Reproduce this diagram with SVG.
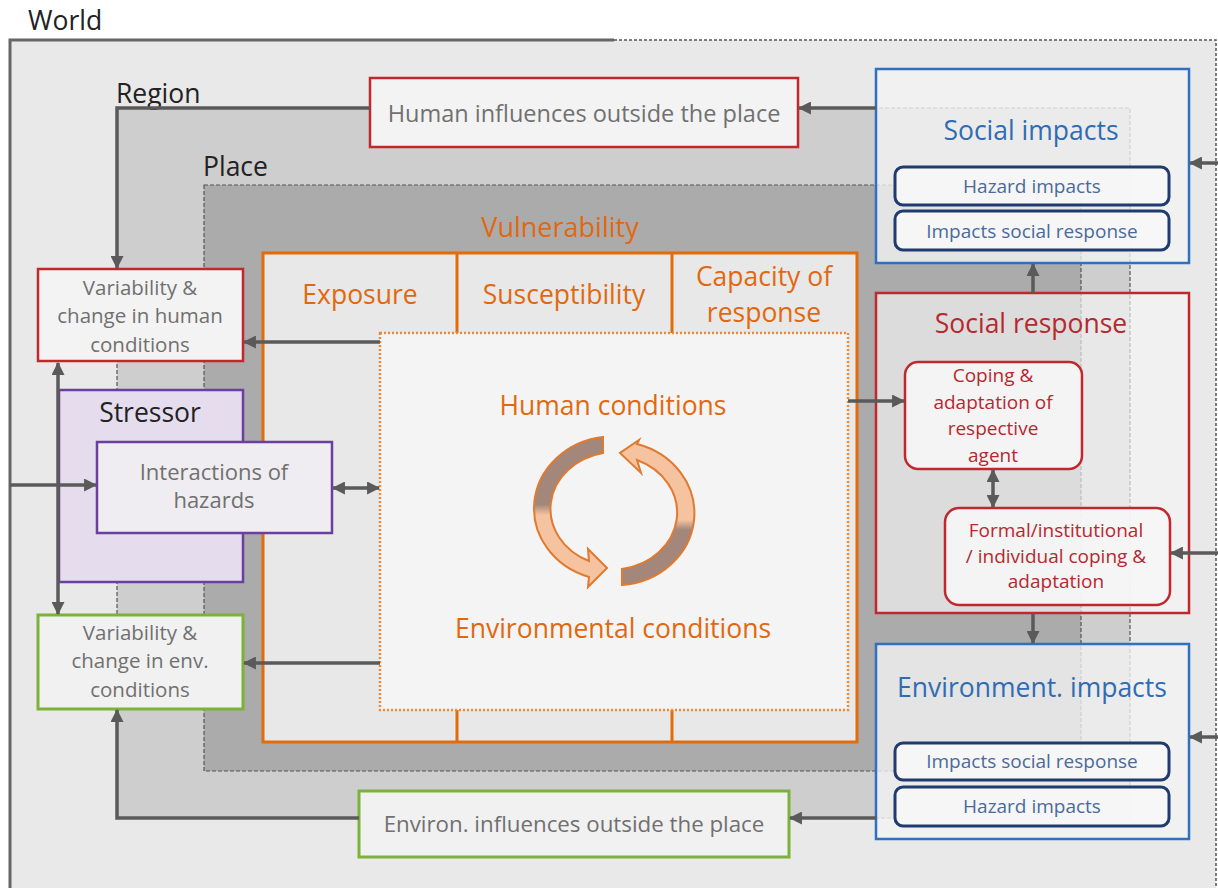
<svg xmlns="http://www.w3.org/2000/svg" width="1218" height="888" viewBox="0 0 1218 888">
<style>
text{font-family:"Open Sans","DejaVu Sans",sans-serif;}
.gt{fill:#707070;text-anchor:middle;}
.lbl{fill:#222;font-size:26.5px;}
.or{fill:#E2680F;text-anchor:middle;}
.bl{fill:#2F6CB3;text-anchor:middle;}
.bli{fill:#4A6A9C;text-anchor:middle;font-size:19px;}
.rd{fill:#B7282F;text-anchor:middle;}
.redbox{fill:#f3f3f3;stroke:#C0282E;stroke-width:2.5;}
.grnbox{fill:#f1f1f1;stroke:#7DB23A;stroke-width:3;}
.pur{stroke:#6A3FA0;stroke-width:2.5;}
.bluebox{fill:#f4f4f4;fill-opacity:0.78;stroke:#3070C0;stroke-width:2.5;}
.navy{fill:#f7f7f7;fill-opacity:0.9;stroke:#1F3B6F;stroke-width:3;}
.srbox{fill:#f6f6f6;fill-opacity:0.65;stroke:#C0282E;stroke-width:2.5;}
.rr{fill:#f6f6f6;fill-opacity:0.9;stroke:#C0282E;stroke-width:2.5;}
.dash{fill:none;stroke:#555;stroke-width:1.2;stroke-dasharray:4 2;}
.con{fill:none;stroke:#5A5A5A;stroke-width:3.5;}
.ora{stroke:#E36C0A;stroke-width:3;}
</style>
<defs>
<marker id="ah" markerUnits="userSpaceOnUse" markerWidth="13" markerHeight="13" viewBox="0 0 12 12" refX="11" refY="6" orient="auto-start-reverse">
<path d="M0,0 L12,6 L0,12 z" fill="#5A5A5A"/>
</marker>
<linearGradient id="gl" x1="0" y1="0" x2="0" y2="1">
<stop offset="0" stop-color="#A3877A"/><stop offset="0.45" stop-color="#A3877A"/><stop offset="0.52" stop-color="#F5C3A0"/><stop offset="1" stop-color="#F5C3A0"/>
</linearGradient>
<linearGradient id="gr" x1="0" y1="0" x2="0" y2="1">
<stop offset="0" stop-color="#F5C3A0"/><stop offset="0.55" stop-color="#F5C3A0"/><stop offset="0.62" stop-color="#A3877A"/><stop offset="1" stop-color="#A3877A"/>
</linearGradient>
</defs>

<rect width="1218" height="888" fill="#ffffff"/>

<g id="world">
<rect x="10" y="40" width="1206" height="860" fill="#E9E9E9"/>
<path d="M10,888 V40 H614" fill="none" stroke="#666" stroke-width="3"/>
<path d="M614,40 H1216 V888" fill="none" stroke="#555" stroke-width="1.5" stroke-dasharray="3 2"/>
<text x="28" y="30" class="lbl">World</text>
</g>

<g id="region">
<rect x="117" y="108" width="1013" height="710" class="dash" style="fill:#CECECE"/>
<text x="116" y="103" class="lbl">Region</text>
</g>

<g id="place">
<rect x="204" y="185" width="877" height="586" style="fill:#ABABAB" class="dash"/>
<text x="203" y="176" class="lbl">Place</text>
</g>

<g id="vulnerability">
<text x="560" y="237" class="or" font-size="27">Vulnerability</text>
<rect x="263" y="253" width="594" height="489" fill="#E8E8E8" class="ora"/>
<line x1="457" y1="253" x2="457" y2="742" class="ora"/>
<line x1="672" y1="253" x2="672" y2="742" class="ora"/>
<text x="360" y="304" class="or" font-size="26.5">Exposure</text>
<text x="564" y="304" class="or" font-size="26.5">Susceptibility</text>
<text x="764" y="286" class="or" font-size="26.5">Capacity of</text>
<text x="764" y="322" class="or" font-size="26.5">response</text>
</g>

<g id="conditions">
<rect x="380" y="333" width="468" height="377" fill="#F4F4F4" stroke="#E98A3A" stroke-width="2.5" stroke-dasharray="2 2"/>
<text x="613" y="415" class="or" font-size="26.5">Human conditions</text>
<text x="613" y="638" class="or" font-size="26.5">Environmental conditions</text>
<path d="M603,437 A79 72 0 0 0 589,577 L588,587 L607,568 L588,549 L589,561 A65 57 0 0 1 603,453 Z" fill="url(#gl)" stroke="#E07A30" stroke-width="2"/>
<path d="M622,585 A79 72 0 0 0 637,444 L639,440 L620,453 L641,473 L637,460 A65 57 0 0 1 622,569 Z" fill="url(#gr)" stroke="#E07A30" stroke-width="2"/>
</g>

<g id="var-human">
<rect x="38" y="269" width="205" height="92" class="redbox"/>
<text x="140" y="295" class="gt" font-size="20.5">Variability &amp;</text>
<text x="140" y="323" class="gt" font-size="20.5">change in human</text>
<text x="140" y="352" class="gt" font-size="20.5">conditions</text>
</g>

<g id="stressor">
<rect x="59" y="390" width="184" height="192" fill="#E5DDEE" class="pur"/>
<text x="150" y="422" class="lbl" text-anchor="middle">Stressor</text>
</g>

<g id="interactions">
<rect x="97" y="442" width="235" height="91" fill="#EFEDF1" class="pur"/>
<text x="214" y="480" class="gt" font-size="22">Interactions of</text>
<text x="214" y="508" class="gt" font-size="22">hazards</text>
</g>

<g id="var-env">
<rect x="38" y="615" width="205" height="94" class="grnbox"/>
<text x="140" y="640" class="gt" font-size="20.5">Variability &amp;</text>
<text x="140" y="668" class="gt" font-size="20.5">change in env.</text>
<text x="140" y="697" class="gt" font-size="20.5">conditions</text>
</g>

<g id="human-influences">
<rect x="370" y="78" width="428" height="69" class="redbox"/>
<text x="584" y="122" class="gt" font-size="23.5">Human influences outside the place</text>
</g>

<g id="environ-influences">
<rect x="359" y="791" width="430" height="66" class="grnbox"/>
<text x="574" y="832" class="gt" font-size="22.3">Environ. influences outside the place</text>
</g>

<g id="social-impacts">
<rect x="876" y="69" width="313" height="194" class="bluebox"/>
<text x="1031" y="140" class="bl" font-size="26.5">Social impacts</text>
<rect x="895" y="167" width="274" height="38" rx="8" class="navy"/>
<text x="1032" y="193" class="bli">Hazard impacts</text>
<rect x="895" y="211" width="274" height="39" rx="8" class="navy"/>
<text x="1032" y="238" class="bli">Impacts social response</text>
</g>

<g id="social-response">
<rect x="876" y="293" width="313" height="320" class="srbox"/>
<text x="1031" y="333" class="rd" font-size="26.5">Social response</text>
</g>

<g id="coping-agent">
<rect x="905" y="362" width="177" height="107" rx="13" class="rr"/>
<text x="993" y="382" class="rd" font-size="19">Coping &amp;</text>
<text x="993" y="409" class="rd" font-size="19">adaptation of</text>
<text x="993" y="435" class="rd" font-size="19">respective</text>
<text x="993" y="462" class="rd" font-size="19">agent</text>
</g>

<g id="coping-formal">
<rect x="945" y="508" width="225" height="97" rx="14" class="rr"/>
<text x="1056" y="537" class="rd" font-size="19">Formal/institutional</text>
<text x="1056" y="563" class="rd" font-size="19">/ individual coping &amp;</text>
<text x="1056" y="588" class="rd" font-size="19">adaptation</text>
</g>

<g id="env-impacts">
<rect x="876" y="644" width="313" height="195" class="bluebox"/>
<text x="1032" y="697" class="bl" font-size="26.5">Environment. impacts</text>
<rect x="895" y="743" width="274" height="37" rx="8" class="navy"/>
<text x="1032" y="768" class="bli">Impacts social response</text>
<rect x="895" y="787" width="274" height="39" rx="8" class="navy"/>
<text x="1032" y="813" class="bli">Hazard impacts</text>
</g>

<g id="connectors">
<path d="M380,342 H244" class="con" marker-end="url(#ah)"/>
<path d="M380,663 H244" class="con" marker-end="url(#ah)"/>
<path d="M333,488 H379" class="con" marker-start="url(#ah)" marker-end="url(#ah)"/>
<path d="M10,485 H96" class="con" marker-end="url(#ah)"/>
<path d="M58,363 V614" class="con" marker-start="url(#ah)" marker-end="url(#ah)"/>
<path d="M370,108 H117 V268" class="con" marker-end="url(#ah)"/>
<path d="M876,108 H799" class="con" marker-end="url(#ah)"/>
<path d="M1218,163 H1190" class="con" marker-end="url(#ah)"/>
<path d="M1033,293 V264" class="con" marker-end="url(#ah)"/>
<path d="M848,401 H904" class="con" marker-end="url(#ah)"/>
<path d="M993,470 V507" class="con" marker-start="url(#ah)" marker-end="url(#ah)"/>
<path d="M1218,553 H1171" class="con" marker-end="url(#ah)"/>
<path d="M1033,613 V643" class="con" marker-end="url(#ah)"/>
<path d="M1218,737 H1190" class="con" marker-end="url(#ah)"/>
<path d="M876,818 H790" class="con" marker-end="url(#ah)"/>
<path d="M359,818 H117 V710" class="con" marker-end="url(#ah)"/>
</g>
</svg>
